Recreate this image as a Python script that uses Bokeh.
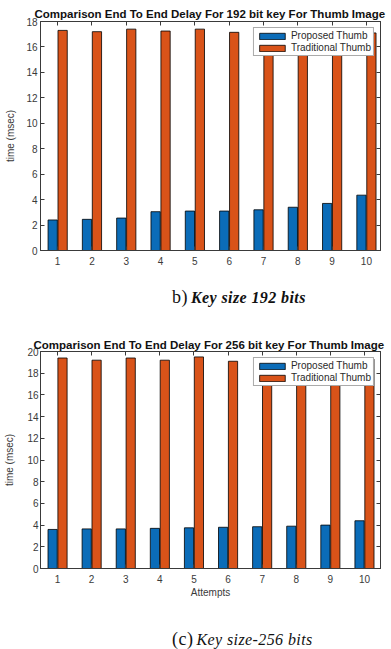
from bokeh.plotting import figure
from bokeh.layouts import column
from bokeh.models import LinearAxis, FixedTicker, Range1d, Legend, LegendItem, ColumnDataSource, Div
from bokeh.embed import file_html
from bokeh.resources import INLINE

# End-to-end delay (msec) per attempt
attempts = [1, 2, 3, 4, 5, 6, 7, 8, 9, 10]
proposed_192 = [2.4, 2.45, 2.55, 3.05, 3.1, 3.1, 3.2, 3.4, 3.7, 4.35]
traditional_192 = [17.3, 17.2, 17.4, 17.25, 17.4, 17.15, 17.3, 17.2, 17.45, 17.1]
proposed_256 = [3.6, 3.65, 3.65, 3.7, 3.75, 3.8, 3.85, 3.9, 4.0, 4.4]
traditional_256 = [19.4, 19.2, 19.4, 19.2, 19.5, 19.1, 19.3, 19.2, 19.4, 19.3]
series_names = ["Proposed Thumb", "Traditional Thumb"]

BLUE = "#0b6cb8"
ORANGE = "#d95319"
AXIS = "#3a3a3a"
SANS = "Liberation Sans"
SERIF = "Liberation Serif"


def make_chart(height, frame, x_end, y_max, y_ticks, proposed, traditional,
               title, title_offset, title_standoff, xlabel=None,
               ytick_standoff=3, ylabel_standoff=7):
    left, right, top, bottom = frame
    p = figure(width=391, height=height, output_backend="svg", toolbar_location=None,
               x_range=Range1d(0.5, x_end), y_range=Range1d(0, y_max),
               min_border_left=left, min_border_right=right,
               min_border_top=top, min_border_bottom=bottom,
               background_fill_color="white", border_fill_color="white",
               outline_line_color=AXIS)
    p.grid.visible = False

    p.title.text = title
    p.title.text_font = SANS
    p.title.text_font_style = "bold"
    p.title.text_font_size = "11.5px"
    p.title.text_color = "#111111"
    p.title.align = "left"
    p.title.offset = title_offset
    p.title.standoff = title_standoff

    src = ColumnDataSource(dict(
        xb=[a - 0.145 for a in attempts], xo=[a + 0.145 for a in attempts],
        prop=proposed, trad=traditional))
    rb = p.vbar(x="xb", top="prop", width=0.27, source=src,
                fill_color=BLUE, line_color="black", line_width=0.8)
    ro = p.vbar(x="xo", top="trad", width=0.27, source=src,
                fill_color=ORANGE, line_color="black", line_width=0.8)

    for ax in (p.xaxis[0], p.yaxis[0]):
        ax.axis_line_color = AXIS
        ax.major_tick_line_color = AXIS
        ax.major_tick_in = 4
        ax.major_tick_out = 0
        ax.minor_tick_line_color = None
        ax.major_label_text_font = SANS
        ax.major_label_text_font_size = "10px"
        ax.major_label_text_color = "#3a3a3a"
        ax.axis_label_text_font = SANS
        ax.axis_label_text_font_size = "10px"
        ax.axis_label_text_font_style = "normal"
        ax.axis_label_text_color = "#3a3a3a"
    p.xaxis[0].ticker = FixedTicker(ticks=attempts)
    p.yaxis[0].ticker = FixedTicker(ticks=y_ticks)
    p.xaxis[0].major_label_standoff = 6
    p.yaxis[0].major_label_standoff = ytick_standoff
    p.yaxis[0].axis_label = "time (msec)"
    p.yaxis[0].axis_label_standoff = ylabel_standoff
    if xlabel:
        p.xaxis[0].axis_label = xlabel
        p.xaxis[0].axis_label_standoff = 1

    # mirrored box ticks on top and right, without labels
    for loc, tk in (("above", attempts), ("right", y_ticks)):
        ax = LinearAxis(ticker=FixedTicker(ticks=tk), major_label_text_font_size="1px",
                        major_label_text_color=None,
                        axis_line_color=AXIS, major_tick_line_color=AXIS,
                        major_tick_in=4, major_tick_out=0, minor_tick_line_color=None,
                        major_label_standoff=0)
        p.add_layout(ax, loc)

    legend = Legend(items=[LegendItem(label=series_names[0], renderers=[rb]),
                           LegendItem(label=series_names[1], renderers=[ro])],
                    location="top_right", margin=6, padding=2, spacing=1,
                    glyph_width=32, glyph_height=8, label_height=9, label_standoff=3,
                    label_text_font=SANS, label_text_font_size="10px",
                    label_text_color="#2a2a2a", border_line_color="#555555",
                    border_line_width=1.2, background_fill_color="white",
                    background_fill_alpha=1.0)
    p.add_layout(legend, "center")
    return p


def caption(prefix, prefix_size, text, text_size, weight, pad_left, pad_top, height):
    html = (f'<div style="padding-left:{pad_left}px; padding-top:{pad_top}px; '
            f'font-family:\'{SERIF}\'; color:#111111; white-space:nowrap; line-height:1;">'
            f'<span style="font-size:{prefix_size}px; letter-spacing:0.5px;">{prefix}</span> '
            f'<i style="font-size:{text_size}px; font-weight:{weight}; letter-spacing:0.4px;">'
            f'{text}</i></div>')
    return Div(text=html, width=391, height=height, margin=0)


top_chart = make_chart(
    270, (40, 11, 21, 20), 10.41, 18, list(range(0, 19, 2)),
    proposed_192, traditional_192,
    "Comparison End To End Delay For 192 bit key For Thumb Image", -6, 3)

bottom_chart = make_chart(
    280, (33, 11, 31, 28), 10.47, 20, list(range(0, 21, 2)),
    proposed_256, traditional_256,
    "Comparison End To End Delay For 256 bit key For Thumb Image", -7, 2,
    xlabel="Attempts", ytick_standoff=2, ylabel_standoff=9)

top_chart.margin = 0
bottom_chart.margin = 0
layout = column(top_chart,
                caption("b)", 18, "Key size 192 bits", 16, "bold", 172, 18, 50),
                bottom_chart,
                caption("(c)", 18, "Key size-256 bits", 16, "normal", 172, 30, 49),
                spacing=0, margin=0)
open("out.html", "w").write(file_html(layout, INLINE))
